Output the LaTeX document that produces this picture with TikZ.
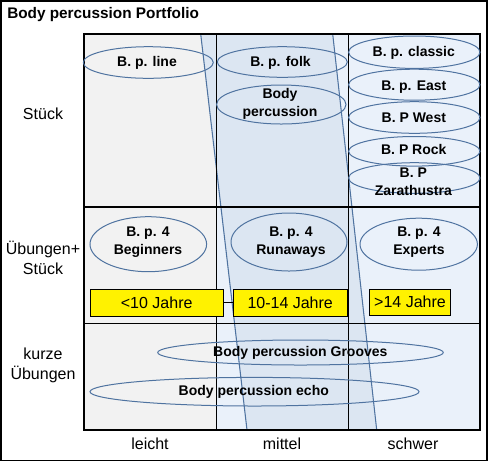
\documentclass[tikz,border=0pt]{standalone}
\usepackage{fontspec}
\setmainfont{Liberation Sans}
\usetikzlibrary{shapes.geometric}
\definecolor{leftc}{RGB}{242,242,242}
\definecolor{lightb}{RGB}{234,241,250}
\definecolor{bandc}{RGB}{220,230,242}
\definecolor{elc}{RGB}{79,115,160}
\tikzset{
  ell/.style 2 args={ellipse, draw=elc, line width=0.75pt, inner sep=0pt,
    minimum width=#1*1.5pt, minimum height=#2*1.5pt},
  etext/.style={font=\fontsize{10.5}{13.5}\selectfont\bfseries, align=center, inner sep=0pt},
  lab/.style={font=\fontsize{12}{15}\selectfont, align=center, inner sep=0pt},
  ybox/.style={draw=black, fill=yellow, line width=0.75pt, inner sep=0pt,
    font=\fontsize{12}{15}\selectfont, minimum height=20pt},
  grid/.style={line width=0.8pt, draw=black}
}
\begin{document}
\begin{tikzpicture}[x=0.75pt,y=-0.75pt]
\useasboundingbox (0,0) rectangle (492,462);
\draw[line width=1.3pt] (1,1) rectangle (487,460.5);
% column fills
\fill[leftc] (84,34) rectangle (216.7,430);
\fill[lightb] (216.7,34) rectangle (480,430);
% slanted band
\draw[draw=elc, fill=bandc, line width=0.8pt] (200.7,34) -- (332.7,34) -- (376.7,430) -- (247,430) -- cycle;
% grid
\draw[grid] (84,34) rectangle (480,430);
\draw[grid] (216.7,34) -- (216.7,430);
\draw[grid] (348.7,34) -- (348.7,430);
\draw[grid] (84,207) -- (480,207);
\draw[grid] (84,323.3) -- (480,323.3);
% title
\node[font=\fontsize{11.5}{13}\selectfont\bfseries, anchor=west, inner sep=0pt] (title) at (7,15) {Body percussion Portfolio};
% row labels
\node[lab] (r1) at (43,114) {Stück};
\node[lab] (r2) at (43,258) {Übungen+\\Stück};
\node[lab] (r3) at (43,365) {kurze\\Übungen};
% column labels
\node[lab] (c1) at (150,444) {leicht};
\node[lab] (c2) at (282,444) {mittel};
\node[lab] (c3) at (413,444) {schwer};
% ellipses row 1
\node[ell={65}{15.8}] (eline) at (148.3,62.5) {};
\node[etext] (tline) at (147,63.3) {B. p. line};
\node[ell={65}{15.3}] (efolk) at (282.3,62) {};
\node[etext] (tfolk) at (280.5,63.3) {B. p. folk};
\node[ell={64.7}{19.5}] (ebody) at (281.3,104.5) {};
\node[etext] (tbody) at (280,103.5) {Body\\percussion};
\node[ell={65.7}{16.2}] (eclassic) at (414.3,52.2) {};
\node[etext] (tclassic) at (413.8,52.7) {B. p. classic};
\node[ell={65.7}{15.5}] (eeast) at (414.3,84.7) {};
\node[etext] (teast) at (413.8,86.7) {B. p. East};
\node[ell={65.7}{15.8}] (ewest) at (414.3,117.5) {};
\node[etext] (twest) at (413.8,117.3) {B. P West};
\node[ell={65.7}{14.8}] (erock) at (414.3,151.3) {};
\node[etext] (trock) at (413.8,149.3) {B. P Rock};
\node[ell={65.7}{15.3}] (ezara) at (414.3,178) {};
\node[etext] (tzara) at (413.3,181.7) {B. P\\Zarathustra};
% row 2
\node[ell={58.3}{27.5}] (ebeg) at (148.3,244.2) {};
\node[etext] (tbeg) at (148,242.5) {B. p. 4\\Beginners};
\node[ell={58}{29}] (erun) at (289,242) {};
\node[etext] (trun) at (291,242) {B. p. 4\\Runaways};
\node[ell={58.7}{26}] (eexp) at (418.7,244.2) {};
\node[etext] (texp) at (419,242) {B. p. 4\\Experts};
% yellow boxes
\node[ybox, minimum width=99.5pt] (y1) at (156.7,302.7) {<10 Jahre};
\node[ybox, minimum width=85.7pt] (y2) at (290.2,302.7) {10-14 Jahre};
\node[ybox, minimum width=61pt, minimum height=19.3pt] (y3) at (410,302.2) {>14 Jahre};
\draw[line width=0.75pt] (y1.east) -- (y2.west);
% row 3
\node[ell={142.8}{12.5}] (egroove) at (300.5,352.5) {};
\node[etext] (tgroove) at (300.3,353.3) {Body percussion Grooves};
\node[ell={164.5}{14.3}] (eecho) at (254.5,391.7) {};
\node[etext] (techo) at (253.8,391.7) {Body percussion echo};
\end{tikzpicture}
\end{document}
